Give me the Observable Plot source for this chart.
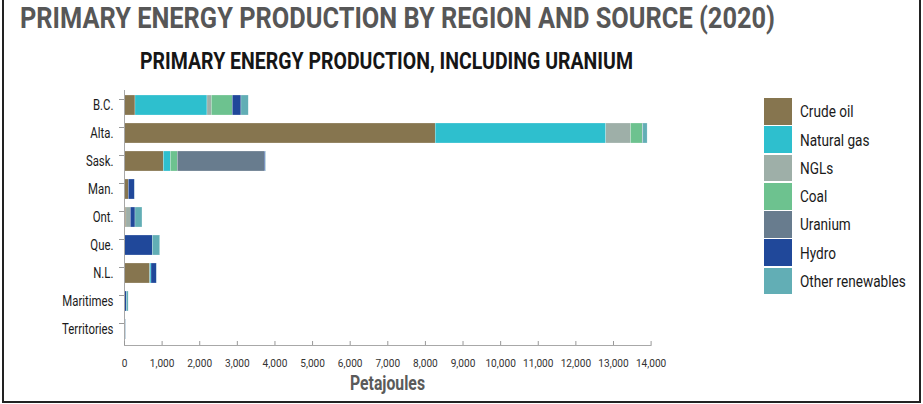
<!DOCTYPE html>
<html>
<head>
<meta charset="utf-8">
<script src="https://cdn.jsdelivr.net/npm/d3@7"></script>
<script src="https://cdn.jsdelivr.net/npm/@observablehq/plot@0.6"></script>
<style>
  html, body { margin: 0; padding: 0; background: #fff; }
  #wrap { position: relative; width: 923px; height: 404px; overflow: hidden; background: #fff;
          font-family: Roboto, "Liberation Sans", sans-serif; }
  #frame { position: absolute; left: 2px; top: -4px; width: 915px; height: 403px;
           border: 2px solid #222; box-sizing: content-box; }
  .fit { position: absolute; white-space: nowrap; display: inline-block; }
  #title { left: 20px; top: 3px; font-size: 30px; font-weight: bold; color: #575757; line-height: 30px; transform-origin: 0 50%; }
  #subtitle { top: 48px; font-size: 23px; font-weight: bold; color: #161616; line-height: 28px; transform-origin: 0 50%; }
  #xlabel { top: 371px; font-size: 20px; font-weight: bold; color: #5a5a5a; line-height: 24px; transform-origin: 0 50%; }
  #chart { position: absolute; left: 0; top: 0; }
  #legend { position: absolute; left: 764px; top: 98px; }
  .item { display: flex; align-items: center; height: 26.7px; margin-bottom: 1.6px; }
  .sw { width: 28px; height: 26.7px; margin-right: 8px; flex: none; }
  .lb { font-size: 17px; color: #1a1a1a; white-space: nowrap; transform: scaleX(0.8); transform-origin: 0 50%; }
</style>
</head>
<body>
<div id="wrap">
  <div id="chart"></div>
  <div id="frame"></div>
  <div id="title" class="fit">PRIMARY ENERGY PRODUCTION BY REGION AND SOURCE (2020)</div>
  <div id="subtitle" class="fit">PRIMARY ENERGY PRODUCTION, INCLUDING URANIUM</div>
  <div id="xlabel" class="fit">Petajoules</div>
  <div id="legend"></div>
</div>
<script>
const regions = ["B.C.", "Alta.", "Sask.", "Man.", "Ont.", "Que.", "N.L.", "Maritimes", "Territories"];
const sources = ["Crude oil", "Natural gas", "NGLs", "Coal", "Uranium", "Hydro", "Other renewables"];
const colors = ["#86754F", "#2EBFCE", "#9EAFA8", "#6DC28F", "#687C8E", "#20489A", "#62AEB5"];
const xTicks = [0, 1000, 2000, 3000, 4000, 5000, 6000, 7000, 8000, 9000, 10000, 11000, 12000, 13000, 14000];

// Petajoules, per region in the order of `regions`
const crudeOil        = [292, 8273, 1045, 115,  50,   0, 683,  0, 15];
const naturalGas      = [1914, 4536, 187,   0,   0,   0,  35, 15, 10];
const ngls            = [114,  656,   0,   0, 117,   0,   0,  0,  0];
const coal            = [558,  319, 185,   0,   0,   0,   0,  0,  0];
const uranium         = [0,      0, 2312,  0,   0,   0,   0,  0,  0];
const hydro           = [231,   10,  25, 159, 125, 752, 141, 45, 10];
const otherRenewables = [194,  113,  10,   5, 186, 197,   5, 50,  5];

const series = [crudeOil, naturalGas, ngls, coal, uranium, hydro, otherRenewables];
const rows = regions.flatMap((r, i) => sources.map((s, j) => ({region: r, source: s, value: series[j][i]})));

const W = 740, H = 404;
const chart = Plot.plot({
  width: W, height: H,
  marginLeft: 124, marginRight: W - 650.6, marginTop: 90, marginBottom: 59,
  style: {fontFamily: 'Roboto, "Liberation Sans", sans-serif', background: "transparent", overflow: "visible"},
  x: {domain: [0, 14000], label: null},
  y: {domain: regions, paddingInner: 0.27, paddingOuter: 0.13, label: null},
  color: {domain: sources, range: colors},
  marks: [
    Plot.barX(rows, {x: "value", y: "region", fill: "source", order: sources, stroke: "#fff", strokeWidth: 0.4, strokeOpacity: 0.6}),
    Plot.ruleX([0], {stroke: "#a8a8a8"}),
    Plot.frame({anchor: "bottom", stroke: "#a8a8a8"}),
    Plot.axisX({ticks: xTicks, tickSize: 4, dy: -4, tickFormat: () => "", stroke: "#999", label: null}),
    Plot.axisX({ticks: xTicks, tickSize: 0, tickPadding: 13, tickFormat: d3.format(","), fontSize: 11.5, fill: "#333", label: null}),
    Plot.axisY({tickSize: 0, tickPadding: 11, fontSize: 15, fill: "#1a1a1a", label: null}),
    Plot.axisY({tickSize: 5, dy: -6, tickFormat: () => "", stroke: "#999", label: null})
  ]
});
document.getElementById("chart").appendChild(chart);

// condense axis text horizontally (reference uses a condensed typeface)
function condense(selector, s) {
  chart.querySelectorAll(selector).forEach(g => {
    g.querySelectorAll("text").forEach(t => {
      const tr = t.getAttribute("transform");
      if (tr) t.setAttribute("transform", tr + ` scale(${s},1)`);
      else {
        const x = +t.getAttribute("x") || 0, y = +t.getAttribute("y") || 0;
        t.setAttribute("transform", `translate(${x},${y}) scale(${s},1) translate(${-x},${-y})`);
      }
    });
  });
}
condense('[aria-label="y-axis tick label"]', 0.76);
condense('[aria-label="x-axis tick label"]', 0.88);

// fit HTML headings to reference widths
function fit(id, left, width, center) {
  const el = document.getElementById(id);
  const w = el.getBoundingClientRect().width;
  const s = width / w;
  el.style.left = (center ? center - width / 2 : left) + "px";
  el.style.transform = `scaleX(${s})`;
}
fit("title", 20, 755);
fit("subtitle", 0, 493, 386.5);
fit("xlabel", 0, 75, 387.5);

const legend = document.getElementById("legend");
sources.forEach((s, i) => {
  const it = document.createElement("div"); it.className = "item";
  const sw = document.createElement("div"); sw.className = "sw"; sw.style.background = colors[i];
  const lb = document.createElement("div"); lb.className = "lb"; lb.textContent = s;
  it.appendChild(sw); it.appendChild(lb); legend.appendChild(it);
});
</script>
</body>
</html>
